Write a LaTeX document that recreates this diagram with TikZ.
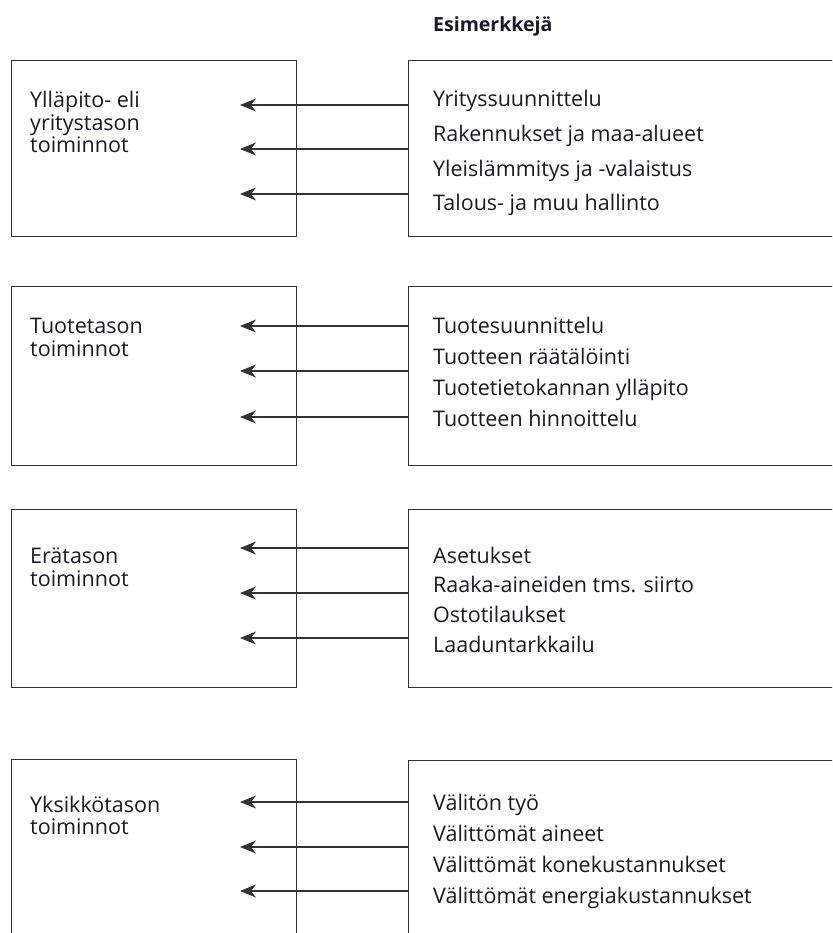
\documentclass[tikz,border=0pt]{standalone}
\usepackage{fontspec}
\setmainfont{Open Sans}
\usetikzlibrary{arrows.meta}
\definecolor{linegray}{HTML}{333333}
\definecolor{textblack}{HTML}{1A1A24}
\begin{document}
\begin{tikzpicture}[x=1pt, y=-1pt,
    box/.style={draw=linegray, line width=1.3pt, inner sep=0pt, anchor=north west},
    txt/.style={anchor=base west, inner sep=0pt, text=textblack, font=\fontsize{21.5}{25}\selectfont},
    arr/.style={draw=linegray, line width=1.2pt, -{Stealth[length=16pt, width=13pt, inset=5pt]}}
  ]
    \useasboundingbox (0,0) rectangle (832,933);
    \clip (0,0) rectangle (832,933);
    \node[txt, font=\fontsize{19.5}{23}\selectfont\bfseries] (head) at (433,32) {Esimerkkejä};
    % Ylläpito- eli yritystaso
    \node[box, minimum width=285, minimum height=176] (lb1) at (11,60) {};
    \node[box, minimum width=500, minimum height=176] (rb1) at (408,60) {};
    \node[txt] (l1a) at (30,108) {Ylläpito- eli};
    \node[txt] (l1b) at (30,131) {yritystason};
    \node[txt] (l1c) at (30,153) {toiminnot};
    \foreach \t [count=\i] in {Yrityssuunnittelu, Rakennukset ja maa-alueet, Yleislämmitys ja -valaistus, Talous- ja muu hallinto}
      \node[txt] (r1\i) at (433,{107+34.6*(\i-1)}) {\t};
    % Tuotetaso
    \node[box, minimum width=285, minimum height=179] (lb2) at (11,286) {};
    \node[box, minimum width=500, minimum height=179] (rb2) at (408,286) {};
    \node[txt] (l2a) at (30,333) {Tuotetason};
    \node[txt] (l2b) at (30,356) {toiminnot};
    \foreach \t [count=\i] in {Tuotesuunnittelu, Tuotteen räätälöinti, Tuotetietokannan ylläpito, Tuotteen hinnoittelu}
      \node[txt] (r2\i) at (433,{333+31.3*(\i-1)}) {\t};
    % Erätaso
    \node[box, minimum width=285, minimum height=178] (lb3) at (11,509) {};
    \node[box, minimum width=500, minimum height=178] (rb3) at (408,509) {};
    \node[txt] (l3a) at (30,563) {Erätason};
    \node[txt] (l3b) at (30,586) {toiminnot};
    \foreach \t [count=\i] in {Asetukset, Raaka-aineiden tms. siirto, Ostotilaukset, Laaduntarkkailu}
      \node[txt] (r3\i) at (433,{563+29.7*(\i-1)}) {\t};
    % Yksikkötaso
    \node[box, minimum width=285, minimum height=200] (lb4) at (11,759) {};
    \node[box, minimum width=500, minimum height=200] (rb4) at (408,760) {};
    \node[txt] (l4a) at (30,812) {Yksikkötason};
    \node[txt] (l4b) at (30,834) {toiminnot};
    \foreach \t [count=\i] in {Välitön työ, Välittömät aineet, Välittömät konekustannukset, Välittömät energiakustannukset}
      \node[txt] (r4\i) at (433,{810+31*(\i-1)}) {\t};
    % nuolet
    \foreach \b/\ya/\yb/\yc in {1/105/149/194, 2/326/371/417, 3/548/593/638, 4/802/847/891} {
      \coordinate (t\b a) at (240,\ya);
      \coordinate (t\b b) at (240,\yb);
      \coordinate (t\b c) at (240,\yc);
      \draw[arr] (rb\b.west |- t\b a) -- (t\b a);
      \draw[arr] (rb\b.west |- t\b b) -- (t\b b);
      \draw[arr] (rb\b.west |- t\b c) -- (t\b c);
    }
\end{tikzpicture}
\end{document}
